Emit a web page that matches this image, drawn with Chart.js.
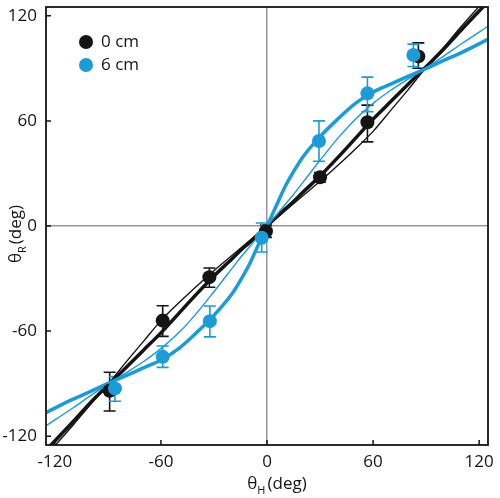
<!DOCTYPE html>
<html>
<head>
<meta charset="utf-8">
<script src="https://cdn.jsdelivr.net/npm/chart.js@4/dist/chart.umd.min.js"></script>
<style>
  html, body { margin: 0; padding: 0; background: #fff; }
  canvas { display: block; }
</style>
</head>
<body>
<canvas id="angles" width="500" height="498"></canvas>
<script>
// measured points (deg)
var seriesNames = ["0 cm", "6 cm"];
var tickValues = [-120, -60, 0, 60, 120];

var thetaH0 = [-89, -59, -32.6, -0.6, 30, 56.8, 85.6];
var thetaR0 = [-94, -54, -29.2, -3, 27.8, 59.2, 96.8];
var err0Lo = [-105.6, -63, -35, -6.5, 25, 48, 90];
var err0Hi = [-83.5, -45.5, -24, 0.5, 30.5, 69, 104.5];

var thetaH6 = [-86, -59, -32.3, -3, 29.4, 56.8, 82.8];
var thetaR6 = [-92.7, -74.7, -54.3, -6.7, 48.5, 75.7, 97.6];
var err6Lo = [-100, -80.7, -63.3, -14.8, 37, 65.3, 91];
var err6Hi = [-86, -68.5, -45.7, 1.7, 60, 85, 103.8];

// fitted curves
var fitX = [-125, -110, -100, -88, -80, -70, -60, -50, -40, -30, -20, -15, -10, -5, 0, 5, 10, 15, 20, 30, 40, 50, 60, 70, 80, 88, 100, 110, 125];
var fit0Thick = [-128, -112, -101, -89, -81, -71, -61, -50, -39, -28.5, -19, -14, -9.5, -4.8, 0, 4.8, 9.5, 14, 19, 28.5, 39, 50, 61, 71, 81, 89, 101, 112, 128];
var fit0Thin = [-131, -114, -102, -88, -78, -66, -54, -44, -34.5, -25.5, -17, -12.7, -8.5, -4.2, 0, 4.2, 8.5, 12.7, 17, 25.5, 34.5, 44, 54, 66, 78, 88, 102, 114, 131];
var fit6Thick = [-106.5, -99, -94.5, -89, -85.5, -81, -76.5, -70, -61, -51, -39, -31, -22, -11, 0, 11, 22, 31, 39, 51, 61, 70, 76.5, 81, 85.5, 89, 94.5, 99, 106.5];
var fit6Thin = [-114, -104, -97, -89, -84, -77.5, -70, -61, -50, -37.5, -24.5, -18, -12, -6, 0, 6, 12, 18, 24.5, 37.5, 50, 61, 70, 77.5, 84, 89, 97, 104, 114];

var black = '#141414';
var blue = '#1b9bd7';
var font = "'Open Sans', sans-serif";

function pts(xs, ys) {
    return xs.map(function (x, i) { return { x: x, y: ys[i] }; });
}

function lineSet(ys, color, width, order) {
    return {
        data: pts(fitX, ys),
        showLine: true,
        borderColor: color,
        borderWidth: width,
        pointRadius: 0,
        cubicInterpolationMode: 'monotone',
        order: order
    };
}

function noPad(s) {
    s.paddingTop = 0; s.paddingBottom = 0;
    s.paddingLeft = 0; s.paddingRight = 0;
}

// frame, inner ticks, error bars, legend, axis titles
var decorations = {
    id: 'decorations',
    beforeDatasetsDraw: function (chart) {
        var ctx = chart.ctx;
        var xs = chart.scales.x, ys = chart.scales.y;
        var bars = [[thetaH0, err0Lo, err0Hi, black], [thetaH6, err6Lo, err6Hi, blue]];
        ctx.save();
        ctx.lineWidth = 1.6;
        bars.forEach(function (b) {
            ctx.strokeStyle = b[3];
            b[0].forEach(function (x, i) {
                var px = xs.getPixelForValue(x);
                var lo = ys.getPixelForValue(b[1][i]);
                var hi = ys.getPixelForValue(b[2][i]);
                ctx.beginPath();
                ctx.moveTo(px, lo); ctx.lineTo(px, hi);
                ctx.moveTo(px - 6, lo); ctx.lineTo(px + 6, lo);
                ctx.moveTo(px - 6, hi); ctx.lineTo(px + 6, hi);
                ctx.stroke();
            });
        });
        ctx.restore();
    },
    afterDraw: function (chart) {
        var ctx = chart.ctx;
        var a = chart.chartArea;
        var xs = chart.scales.x, ys = chart.scales.y;
        ctx.save();
        ctx.strokeStyle = black;
        ctx.lineWidth = 1.8;
        ctx.strokeRect(a.left, a.top, a.right - a.left, a.bottom - a.top);
        ctx.lineWidth = 1.5;
        ctx.beginPath();
        tickValues.forEach(function (v) {
            var px = xs.getPixelForValue(v);
            ctx.moveTo(px, a.bottom); ctx.lineTo(px, a.bottom - 5);
            var py = ys.getPixelForValue(v);
            ctx.moveTo(a.left, py); ctx.lineTo(a.left + 5, py);
        });
        ctx.stroke();

        // legend
        var colors = [black, blue];
        ctx.font = '17px ' + font;
        ctx.textBaseline = 'middle';
        seriesNames.forEach(function (name, i) {
            var cy = a.top + 35 + i * 23;
            ctx.fillStyle = colors[i];
            ctx.beginPath();
            ctx.arc(a.left + 40, cy, 7, 0, Math.PI * 2);
            ctx.fill();
            ctx.fillStyle = black;
            ctx.textAlign = 'left';
            ctx.fillText(name, a.left + 55, cy);
        });

        // axis titles with subscripts
        function title(cx, cy, sub, rot) {
            ctx.save();
            ctx.translate(cx, cy);
            ctx.rotate(rot);
            ctx.fillStyle = black;
            ctx.textBaseline = 'alphabetic';
            ctx.textAlign = 'left';
            var big = '17px ' + font, small = '11px ' + font;
            ctx.font = big;
            var w1 = ctx.measureText('\u03b8').width;
            var w3 = ctx.measureText('(deg)').width;
            ctx.font = small;
            var w2 = ctx.measureText(sub).width;
            var x0 = -(w1 + w2 + 2 + w3) / 2;
            ctx.font = big;
            ctx.fillText('\u03b8', x0, 6);
            ctx.font = small;
            ctx.fillText(sub, x0 + w1, 11);
            ctx.font = big;
            ctx.fillText('(deg)', x0 + w1 + w2 + 2, 6);
            ctx.restore();
        }
        title((a.left + a.right) / 2 + 10, 483, 'H', 0);
        title(15, (a.top + a.bottom) / 2 + 8, 'R', -Math.PI / 2);
        ctx.restore();
    }
};

var ctx = document.getElementById('angles').getContext('2d');
var chart = new Chart(ctx, {
    type: 'scatter',
    data: {
        datasets: [
            {
                label: seriesNames[1],
                data: pts(thetaH6, thetaR6),
                backgroundColor: blue,
                borderWidth: 0,
                pointRadius: 7,
                order: 0
            },
            {
                label: seriesNames[0],
                data: pts(thetaH0, thetaR0),
                backgroundColor: black,
                borderWidth: 0,
                pointRadius: 7,
                order: 1
            },
            lineSet(fit6Thick, blue, 3.5, 2),
            lineSet(fit6Thin, blue, 1.4, 3),
            lineSet(fit0Thick, black, 3.5, 4),
            lineSet(fit0Thin, black, 1.4, 5)
        ]
    },
    options: {
        responsive: false,
        animation: false,
        layout: { padding: { top: 3, right: 12, left: 0, bottom: 0 } },
        plugins: {
            legend: { display: false },
            tooltip: { enabled: false }
        },
        scales: {
            x: {
                type: 'linear',
                min: -125,
                max: 125,
                afterBuildTicks: function (s) { s.ticks = tickValues.map(function (v) { return { value: v }; }); },
                afterFit: function (s) { s.height = 53; noPad(s); },
                border: { display: false },
                grid: {
                    drawTicks: false,
                    color: function (c) { return c.tick && c.tick.value === 0 ? '#959595' : 'rgba(0,0,0,0)'; },
                    lineWidth: 1.5
                },
                ticks: { padding: 7, color: black, font: { family: font, size: 17 }, maxRotation: 0 }
            },
            y: {
                type: 'linear',
                min: -125,
                max: 125,
                afterBuildTicks: function (s) { s.ticks = tickValues.map(function (v) { return { value: v }; }); },
                afterFit: function (s) { s.width = 46; noPad(s); },
                border: { display: false },
                grid: {
                    drawTicks: false,
                    color: function (c) { return c.tick && c.tick.value === 0 ? '#959595' : 'rgba(0,0,0,0)'; },
                    lineWidth: 1.5
                },
                ticks: { padding: 9, color: black, font: { family: font, size: 17 } }
            }
        }
    },
    plugins: [decorations]
});
</script>
</body>
</html>
